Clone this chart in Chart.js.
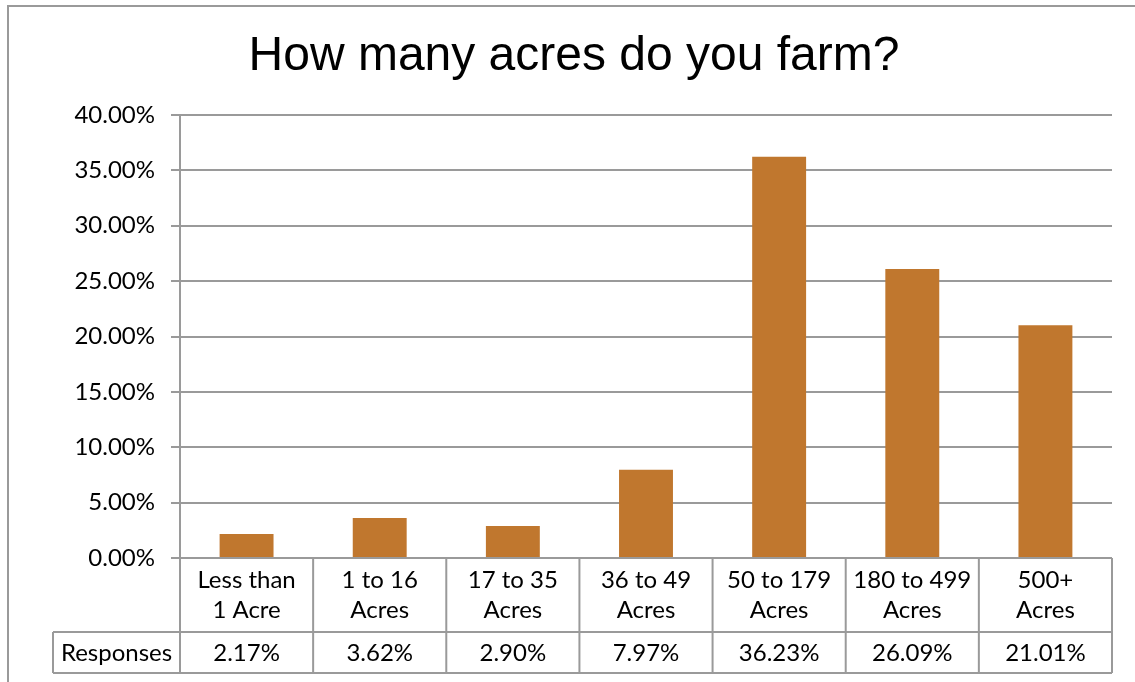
<!DOCTYPE html>
<html>
<head>
<meta charset="utf-8">
<script src="https://cdn.jsdelivr.net/npm/chart.js@4/dist/chart.umd.min.js"></script>
<style>
  html, body { margin: 0; padding: 0; background: #fff; }
  #frame { position: absolute; left: 7px; top: 5px; width: 1200px; height: 720px; border-left: 2px solid #9a9a9a; border-top: 2px solid #9a9a9a; }
  #wrap { position: absolute; left: 0; top: 0; width: 1135px; height: 682px; }
</style>
</head>
<body>
<div id="frame"></div>
<div id="wrap"><canvas id="myChart"></canvas></div>
<script>
const categories = [
  ['Less than', '1 Acre'],
  ['1 to 16', 'Acres'],
  ['17 to 35', 'Acres'],
  ['36 to 49', 'Acres'],
  ['50 to 179', 'Acres'],
  ['180 to 499', 'Acres'],
  ['500+', 'Acres']
]
const responses = [2.17, 3.62, 2.90, 7.97, 36.23, 26.09, 21.01]
const seriesName = 'Responses'
const yMax = 40
const yStep = 5

const lineGray = '#9a9a9a'
const tableFont = '24px Lato'

// Excel style data table under the plot
const dataTable = {
  id: 'dataTable',
  afterDraw(chart) {
    const ctx = chart.ctx
    const x = chart.scales.x
    const area = chart.chartArea
    const step = x.width / categories.length
    const top = area.bottom
    const mid = top + 74
    const bottom = mid + 41
    const tableLeft = 53

    ctx.save()
    ctx.strokeStyle = lineGray
    ctx.lineWidth = 2
    ctx.beginPath()
    ctx.moveTo(area.left, top); ctx.lineTo(area.right, top)
    ctx.moveTo(tableLeft, mid); ctx.lineTo(area.right, mid)
    ctx.moveTo(tableLeft, bottom); ctx.lineTo(area.right, bottom)
    ctx.moveTo(tableLeft, mid); ctx.lineTo(tableLeft, bottom)
    for (let i = 0; i < categories.length; i++) {
      const left = x.getPixelForValue(i) - step / 2
      ctx.moveTo(left, top); ctx.lineTo(left, bottom)
    }
    ctx.moveTo(area.right, top); ctx.lineTo(area.right, bottom)
    ctx.stroke()

    ctx.fillStyle = '#000'
    ctx.font = tableFont
    ctx.textAlign = 'center'
    ctx.textBaseline = 'middle'
    for (let i = 0; i < categories.length; i++) {
      const cx = x.getPixelForValue(i)
      ctx.fillText(categories[i][0], cx, top + 22)
      ctx.fillText(categories[i][1], cx, top + 52)
      ctx.fillText(responses[i].toFixed(2) + '%', cx, mid + 21)
    }
    ctx.fillText(seriesName, (tableLeft + area.left) / 2, mid + 21)
    ctx.restore()
  }
}

const ctx = document.getElementById('myChart').getContext('2d')
const myChart = new Chart(ctx, {
  type: 'bar',
  data: {
    labels: categories.map(c => c.join(' ')),
    datasets: [{
      label: seriesName,
      data: responses,
      backgroundColor: '#c0772e',
      categoryPercentage: 1,
      barPercentage: 0.405
    }]
  },
  options: {
    responsive: true,
    maintainAspectRatio: false,
    animation: false,
    layout: {
      padding: { left: 36, right: 23, top: 0, bottom: 9 }
    },
    plugins: {
      legend: { display: false },
      tooltip: { enabled: false },
      title: {
        display: true,
        text: 'How many acres do you farm?',
        color: '#000',
        font: { family: 'Liberation Sans', size: 48, weight: 'normal', lineHeight: 1.2 },
        padding: { top: 28, bottom: 29.4 }
      }
    },
    scales: {
      x: {
        ticks: { display: false },
        grid: { display: false },
        border: { display: false },
        afterFit(scale) { scale.height = 115 }
      },
      y: {
        min: 0,
        max: yMax,
        ticks: {
          stepSize: yStep,
          color: '#000',
          padding: 16,
          font: { family: 'Lato', size: 24 },
          callback: v => v.toFixed(2) + '%'
        },
        grid: { color: lineGray, lineWidth: 2, tickLength: 9 },
        border: { color: lineGray, width: 2 },
        afterFit(scale) { scale.width = 144 }
      }
    }
  },
  plugins: [dataTable]
})
</script>
</body>
</html>
